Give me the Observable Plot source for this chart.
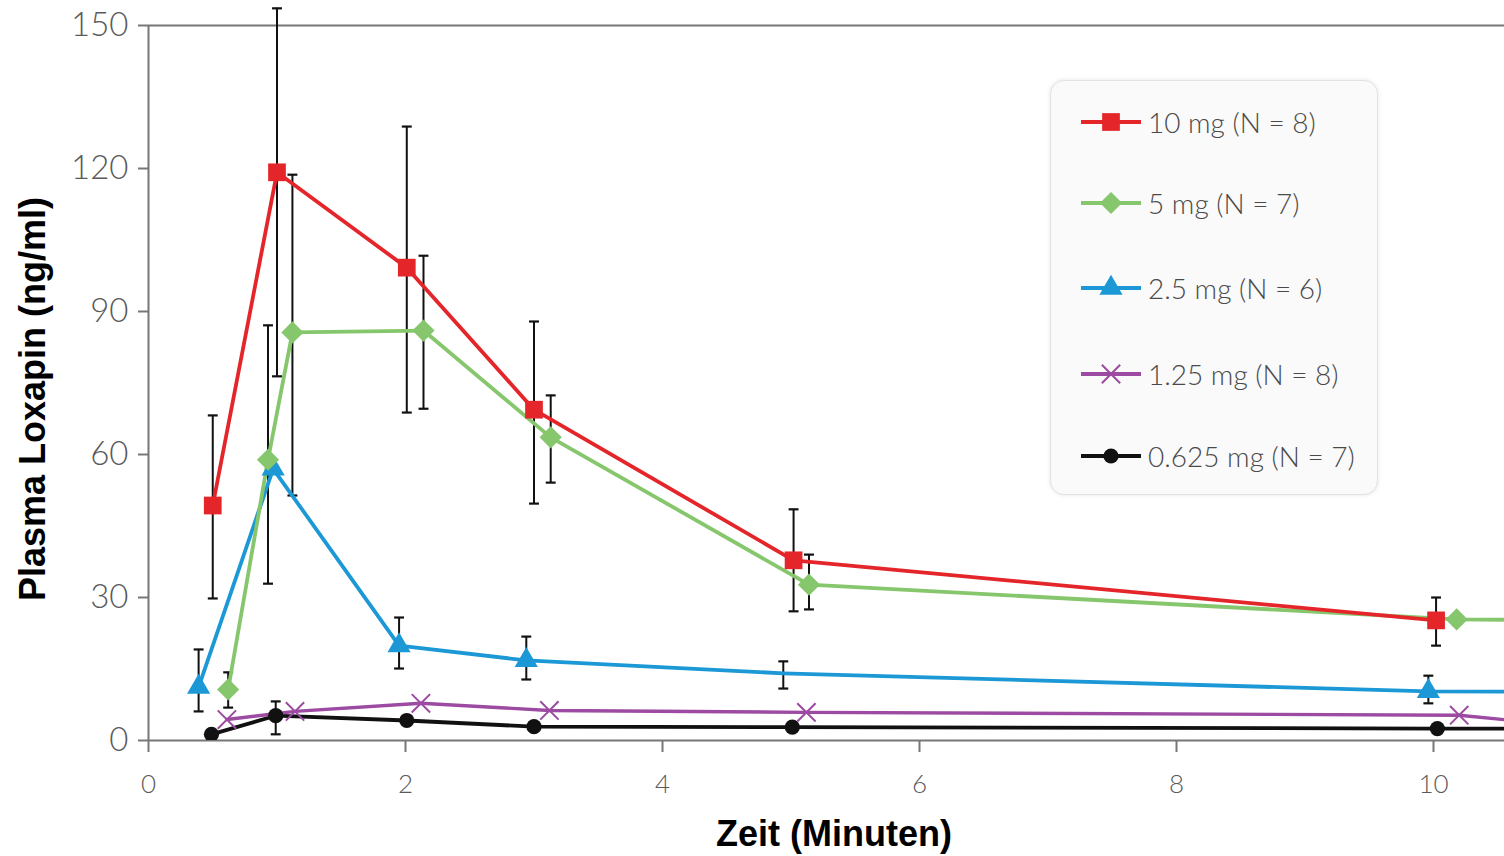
<!DOCTYPE html>
<html><head><meta charset="utf-8">
<script src="https://cdn.jsdelivr.net/npm/d3@7"></script>
<script src="https://cdn.jsdelivr.net/npm/@observablehq/plot@0.6"></script>
<style>
body{margin:0;background:#fff;}
#wrap{position:relative;width:1504px;height:856px;overflow:hidden;font-family:Lato,"Open Sans",sans-serif;}
#chart{position:absolute;left:0;top:0;}
#ytitle{position:absolute;left:33px;top:399px;transform:translate(-50%,-50%) rotate(-90deg);font:bold 36px "Liberation Sans",Arial,sans-serif;white-space:nowrap;color:#000;}
#xtitle{position:absolute;left:834px;top:834px;transform:translate(-50%,-50%);font:bold 36px "Liberation Sans",Arial,sans-serif;white-space:nowrap;color:#000;}
#legend{position:absolute;left:1050px;top:80px;width:328px;height:415px;box-sizing:border-box;border-radius:14px;background:#fafafa;border:1px solid #e3e3e3;box-shadow:0 0 4px rgba(0,0,0,0.10);}
.item{position:absolute;left:28px;height:40px;display:flex;align-items:center;font-size:28px;font-weight:300;color:#4a4a4a;white-space:nowrap;}
.item svg{margin-right:5px;}
</style>
</head>
<body>
<div id="wrap">
  <div id="chart"></div>
  <div id="ytitle">Plasma Loxapin (ng/ml)</div>
  <div id="xtitle">Zeit (Minuten)</div>
  <div id="legend"></div>
</div>
<script>
// ---- Data (times as plotted, minutes; plasma loxapine ng/ml) ----
const xTicks = [0, 2, 4, 6, 8, 10];
const yTicks = [0, 30, 60, 90, 120, 150];

const labels = ["10 mg (N = 8)", "5 mg (N = 7)", "2.5 mg (N = 6)", "1.25 mg (N = 8)", "0.625 mg (N = 7)"];

const redT  = [0.5, 1.0, 2.01, 3.0, 5.02, 10.02];
const redV  = [49.3, 119.2, 99.2, 69.4, 37.8, 25.2];
const redLo = [29.8, 76.4, 68.8, 49.7, 27.1, 19.9];
const redHi = [68.2, 153.6, 128.8, 87.9, 48.5, 30.0];

const greenT  = [0.62, 0.93, 1.12, 2.14, 3.13, 5.14, 10.18, 15];
const greenV  = [10.7, 58.9, 85.6, 86.0, 63.6, 32.7, 25.4, 24.5];
const greenLo = [6.9, 32.9, 51.4, 69.6, 54.1, 27.5, null, null];
const greenHi = [14.3, 87.1, 118.7, 101.7, 72.4, 39.0, null, null];

const blueT  = [0.39, 0.97, 1.95, 2.94, 4.94, 9.96, 15];
const blueV  = [11.2, 57.0, 19.9, 16.8, 14.1, 10.3, 9.8];
const blueLo = [6.1, null, 15.1, 12.8, 10.9, 7.8, null];
const blueHi = [19.1, null, 25.8, 21.8, 16.6, 13.6, null];
const blueMarker = [true, true, true, true, false, true, true];

const purpleT = [0.61, 1.14, 2.12, 3.12, 5.12, 10.2, 11];
const purpleV = [4.4, 6.1, 7.8, 6.3, 5.9, 5.3, 3.2];

const blackT  = [0.49, 0.99, 2.01, 3.0, 5.01, 10.03, 15];
const blackV  = [1.3, 5.2, 4.2, 2.9, 2.8, 2.5, 2.3];
const blackLo = [null, 1.3, null, null, null, null, null];
const blackHi = [null, 8.2, null, null, null, null, null];

const colors = {red: "#e4262b", green: "#86c66c", blue: "#1b98d5", purple: "#9c4aa2", black: "#111111"};

// ---- Build tables ----
function rows(t, v, lo, hi, mk) {
  return t.map((d, i) => ({t: d, v: v[i], lo: lo ? lo[i] : null, hi: hi ? hi[i] : null, mark: mk ? mk[i] : true}));
}
const series = [
  {key: "black",  color: colors.black,  symbol: "circle",   r: 7.6, data: rows(blackT, blackV, blackLo, blackHi)},
  {key: "purple", color: colors.purple, symbol: "times",    r: 8.4, stroke: true, data: rows(purpleT, purpleV)},
  {key: "blue",   color: colors.blue,   symbol: "triangle", r: 8.6, data: rows(blueT, blueV, blueLo, blueHi, blueMarker)},
  {key: "green",  color: colors.green,  symbol: "diamond2", r: 10,  data: rows(greenT, greenV, greenLo, greenHi)},
  {key: "red",    color: colors.red,    symbol: "square",   r: 10,  data: rows(redT, redV, redLo, redHi)}
];
const errRows = series.flatMap(s => s.data.filter(d => d.lo != null && d.hi != null));

const capSymbol = {draw(ctx, size) { const w = Math.sqrt(size); ctx.moveTo(-w / 2, 0); ctx.lineTo(w / 2, 0); }};
const axisColor = "#777";
const xMax = 1356 / 128.5;

const marks = [
  Plot.ruleY([0, 150], {stroke: axisColor, strokeWidth: 2}),
  Plot.ruleX([0], {stroke: axisColor, strokeWidth: 2}),
  Plot.axisX({ticks: xTicks, tickSize: 12, tickPadding: 22, stroke: axisColor, strokeWidth: 2, fill: "#5a5a5a", fontSize: 26, fontWeight: 300, label: null}),
  Plot.axisY({ticks: yTicks, tickSize: 10, tickPadding: 10, stroke: axisColor, strokeWidth: 2, fill: "#5a5a5a", fontSize: 33, fontWeight: 300, label: null}),
  Plot.ruleX(errRows, {x: "t", y1: "lo", y2: "hi", stroke: "#111", strokeWidth: 2}),
  Plot.dot(errRows, {x: "t", y: "lo", symbol: capSymbol, r: 5.6, stroke: "#111", strokeWidth: 2.2}),
  Plot.dot(errRows, {x: "t", y: "hi", symbol: capSymbol, r: 5.6, stroke: "#111", strokeWidth: 2.2})
];
for (const s of series) {
  marks.push(Plot.line(s.data, {x: "t", y: "v", stroke: s.color, strokeWidth: s.key === "purple" ? 3.4 : 3.8, clip: true}));
}
for (const s of series) {
  const pts = s.data.filter(d => d.mark);
  marks.push(s.stroke
    ? Plot.dot(pts, {x: "t", y: "v", symbol: s.symbol, r: s.r, stroke: s.color, strokeWidth: 2, clip: true})
    : Plot.dot(pts, {x: "t", y: "v", symbol: s.symbol, r: s.r, fill: s.color, stroke: "none", clip: true}));
}

const chart = Plot.plot({
  width: 1504, height: 856,
  marginLeft: 148, marginRight: 0, marginTop: 25, marginBottom: 116,
  x: {domain: [0, xMax]},
  y: {domain: [0, 150]},
  style: {fontFamily: "Lato, 'Open Sans', sans-serif", fontSize: "30px", background: "transparent", overflow: "visible"},
  marks
});
document.getElementById("chart").appendChild(chart);

// ---- Legend ----
const legend = document.getElementById("legend");
const legendOrder = ["red", "green", "blue", "purple", "black"];
const centers = [41, 122, 207, 293, 375];
const symMap = {circle: d3.symbolCircle, times: d3.symbolTimes, triangle: d3.symbolTriangle, diamond2: d3.symbolDiamond2, square: d3.symbolSquare};
legendOrder.forEach((k, i) => {
  const s = series.find(d => d.key === k);
  const div = document.createElement("div");
  div.className = "item";
  div.style.top = (centers[i] - 20) + "px";
  const path = d3.symbol(symMap[s.symbol], Math.PI * s.r * s.r)();
  const markerAttr = s.stroke ? `fill="none" stroke="${s.color}" stroke-width="2"` : `fill="${s.color}"`;
  div.innerHTML = `<svg width="64" height="40"><line x1="2" x2="62" y1="20" y2="20" stroke="${s.color}" stroke-width="3.8"/><path transform="translate(32,20)" d="${path}" ${markerAttr}/></svg><span>${labels[i]}</span>`;
  legend.appendChild(div);
});
</script>
</body></html>
